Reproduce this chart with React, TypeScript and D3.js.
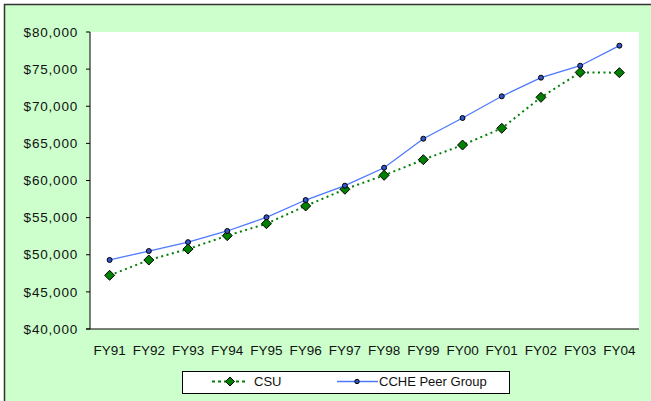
import React from "react";
import * as d3 from "d3";

const categories = ["FY91","FY92","FY93","FY94","FY95","FY96","FY97","FY98","FY99","FY00","FY01","FY02","FY03","FY04"];
const csu = [47230, 49290, 50770, 52570, 54180, 56570, 58820, 60700, 62800, 64780, 67030, 71200, 74560, 74520];
const cche = [49300, 50500, 51700, 53200, 55040, 57370, 59300, 61720, 65630, 68420, 71340, 73850, 75460, 78160];
const yTicks = [40000, 45000, 50000, 55000, 60000, 65000, 70000, 75000, 80000];
const seriesNames = ["CSU", "CCHE Peer Group"];

const W = 651, H = 401;
const plot = { left: 90, top: 32, right: 639, bottom: 329 };
const FONT = "'Liberation Sans', Arial, sans-serif";

export default function App() {
  const x = d3.scaleBand<string>().domain(categories).range([plot.left, plot.right]);
  const y = d3.scaleLinear().domain([40000, 80000]).range([plot.bottom, plot.top]);
  const cx = (c: string) => (x(c) as number) + x.bandwidth() / 2;
  const fmt = d3.format("$,.0f");
  const line = d3.line<number>().x((_, i) => cx(categories[i])).y((d) => y(d));
  const diamond = (px: number, py: number, r: number) =>
    `M${px},${py - r}L${px + r},${py}L${px},${py + r}L${px - r},${py}Z`;

  return (
    <svg width={W} height={H} style={{ position: "absolute", left: 0, top: 0 }}>
      <rect x={0} y={0} width={W} height={H} fill="#ffffff" />
      <rect x={4.5} y={4.5} width={W + 10} height={H + 10} fill="#CCFFCC" stroke="#333" strokeWidth={1.5} />
      <rect x={plot.left} y={plot.top} width={plot.right - plot.left} height={plot.bottom - plot.top} fill="#fff" />
      {/* axes */}
      <line x1={plot.left} x2={plot.left} y1={plot.top} y2={plot.bottom} stroke="#000" strokeWidth={1} />
      <line x1={plot.left - 4} x2={plot.right} y1={plot.bottom} y2={plot.bottom} stroke="#000" strokeWidth={1} />
      {yTicks.map((t) => (
        <g key={t}>
          <line x1={plot.left - 4} x2={plot.left} y1={y(t)} y2={y(t)} stroke="#000" />
          <text x={78} y={y(t)} dy="0.35em" textAnchor="end" fontFamily={FONT} fontSize={13.5} letterSpacing={0.8} fill="#111">
            {fmt(t)}
          </text>
        </g>
      ))}
      {categories.map((c) => (
        <text key={c} x={cx(c)} y={355} textAnchor="middle" fontFamily={FONT} fontSize={13.5} fill="#111">
          {c}
        </text>
      ))}
      {/* CSU */}
      <path d={line(csu) || ""} fill="none" stroke="#008000" strokeWidth={2} strokeDasharray="2,3.5" />
      {csu.map((v, i) => (
        <path key={i} d={diamond(cx(categories[i]), y(v), 5)} fill="#008000" stroke="#000" strokeWidth={1} />
      ))}
      {/* CCHE */}
      <path d={line(cche) || ""} fill="none" stroke="#4D79FF" strokeWidth={1.3} />
      {cche.map((v, i) => (
        <circle key={i} cx={cx(categories[i])} cy={y(v)} r={2.5} fill="#3355CC" stroke="#000" strokeWidth={1} />
      ))}
      {/* legend */}
      <rect x={182.5} y={371.5} width={327} height={22} fill="#fff" stroke="#000" strokeWidth={1} />
      <line x1={212} x2={248} y1={381.5} y2={381.5} stroke="#008000" strokeWidth={2} strokeDasharray="3,3" />
      <path d={diamond(230, 381.5, 4.5)} fill="#008000" stroke="#000" strokeWidth={1} />
      <text x={254} y={381.5} dy="0.35em" fontFamily={FONT} fontSize={13} fill="#111">{seriesNames[0]}</text>
      <line x1={337} x2={378} y1={381.5} y2={381.5} stroke="#4D79FF" strokeWidth={1.3} />
      <circle cx={357} cy={381.5} r={2.2} fill="#3355CC" stroke="#000" strokeWidth={1} />
      <text x={379} y={381.5} dy="0.35em" fontFamily={FONT} fontSize={13} fill="#111">{seriesNames[1]}</text>
    </svg>
  );
}
